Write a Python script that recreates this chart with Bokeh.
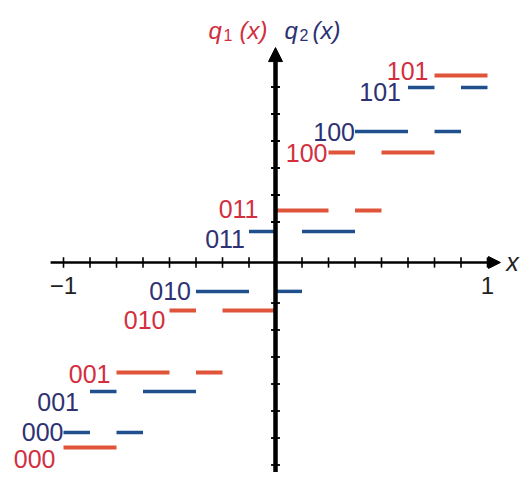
from bokeh.plotting import figure
from bokeh.models import ColumnDataSource, Arrow, NormalHead
from bokeh.core.properties import value
from bokeh.embed import file_html
from bokeh.resources import INLINE

# ---- data -------------------------------------------------------------
codes = ["000", "001", "010", "011", "100", "101"]

# q1(x): output level for each code and the x-cells mapped to it
q1_levels = [-6.85, -4.07, -1.78, 1.93, 4.07, 6.93]
q1_cells = [
    [(-1.0, -0.75)],
    [(-0.75, -0.5), (-0.375, -0.25)],
    [(-0.5, -0.375), (-0.25, 0.0)],
    [(0.0, 0.25), (0.375, 0.5)],
    [(0.25, 0.375), (0.5, 0.75)],
    [(0.75, 1.0)],
]

# q2(x)
q2_levels = [-6.30, -4.78, -1.07, 1.15, 4.85, 6.48]
q2_cells = [
    [(-1.0, -0.875), (-0.75, -0.625)],
    [(-0.875, -0.75), (-0.625, -0.375)],
    [(-0.375, -0.125), (0.0, 0.125)],
    [(-0.125, 0.0), (0.125, 0.375)],
    [(0.375, 0.625), (0.75, 0.875)],
    [(0.625, 0.75), (0.875, 1.0)],
]

x_ticks = [-1.0, -0.875, -0.75, -0.625, -0.5, -0.375, -0.25, -0.125,
           0.125, 0.25, 0.375, 0.5, 0.625, 0.75, 0.875, 1.0]
y_ticks = [-7.5, -6.5, -5.5, -4.5, -3.5, -2.5, -1.5,
           1.5, 2.5, 3.5, 4.5, 5.5, 6.5]
x_tick_labels = ["\u22121", "1"]
x_tick_label_pos = [-1.0, 1.0]

# ---- label placement (pixels, style only) ------------------------------
q1_label_dx = [-8, -6, -4, -17, -1, -6]
q1_label_dy = [12, 2, 9, -1, 0, -4]
q2_label_dx = [0, -11, -5, -4, 0, -7]
q2_label_dy = [-1, 10, 0, 8, 0, 4]

RED_LINE = "#e0553a"
RED_TEXT = "#d22f3f"
BLUE_LINE = "#1f4f8c"
BLUE_TEXT = "#2e3272"
FONT = "Liberation Sans"

p = figure(width=524, height=472, x_range=(-1.2972, 1.1745), y_range=(-7.7778, 9.7037),
           output_backend="svg", toolbar_location=None, min_border=0)
p.axis.visible = False
p.grid.visible = False
p.outline_line_color = None
p.background_fill_color = "white"


def segs(levels, cells):
    x0, x1, y = [], [], []
    for lev, cl in zip(levels, cells):
        for a, b in cl:
            x0.append(a)
            x1.append(b)
            y.append(lev)
    return ColumnDataSource(dict(x0=x0, x1=x1, y=y))


def labels(levels, cells, dx, dy):
    return ColumnDataSource(dict(
        x=[min(a for a, _ in cl) for cl in cells],
        y=levels, text=codes, dx=dx, dy=dy))


# axes
p.segment(x0=x_ticks, y0=[-0.19] * len(x_ticks), x1=x_ticks, y1=[0.19] * len(x_ticks),
          line_color="black", line_width=1.6)
p.segment(x0=[-0.021] * len(y_ticks), y0=y_ticks, x1=[0.021] * len(y_ticks), y1=y_ticks,
          line_color="black", line_width=1.8)
p.add_layout(Arrow(x_start=-1.061, y_start=0, x_end=1.061, y_end=0, line_width=2.6,
                   line_color="black",
                   end=NormalHead(size=12, fill_color="black", line_color="black")))
p.add_layout(Arrow(x_start=0, y_start=-8.1, x_end=0, y_end=7.96, line_width=4.5,
                   line_color="black",
                   end=NormalHead(size=14, fill_color="black", line_color="black")))

# quantizer steps
s1 = segs(q1_levels, q1_cells)
s2 = segs(q2_levels, q2_cells)
p.segment(x0="x0", y0="y", x1="x1", y1="y", source=s1, line_color=RED_LINE,
          line_width=4, line_cap="butt")
p.segment(x0="x0", y0="y", x1="x1", y1="y", source=s2, line_color=BLUE_LINE,
          line_width=3.5, line_cap="butt")

# code labels
p.text(x="x", y="y", text="text", x_offset="dx", y_offset="dy",
       source=labels(q1_levels, q1_cells, q1_label_dx, q1_label_dy),
       text_color=RED_TEXT, text_font=value(FONT), text_font_size="25px",
       text_align="right", text_baseline="middle")
p.text(x="x", y="y", text="text", x_offset="dx", y_offset="dy",
       source=labels(q2_levels, q2_cells, q2_label_dx, q2_label_dy),
       text_color=BLUE_TEXT, text_font=value(FONT), text_font_size="25px",
       text_align="right", text_baseline="middle")

# tick labels
p.text(x=x_tick_label_pos, y=[0, 0], text=x_tick_labels, y_offset=[23, 23],
       text_color="#222222", text_font=value(FONT), text_font_size="24px",
       text_align="center", text_baseline="middle")
p.text(x=[1.118], y=[0], text=["x"], text_color="#222222", text_font=value(FONT),
       text_font_size="25px", text_font_style="italic",
       text_align="center", text_baseline="middle")

# title pieces q1 (x)  q2 (x)
ty = 8.593
p.text(x=[0, 0], y=[ty, ty], text=["q", "(x)"], x_offset=[-67, -36],
       text_color=RED_TEXT, text_font=value(FONT), text_font_size="24px",
       text_font_style="italic", text_baseline="alphabetic")
p.text(x=[0], y=[ty], text=["1"], x_offset=[-52], y_offset=[5],
       text_color=RED_TEXT, text_font=value(FONT), text_font_size="16px",
       text_baseline="alphabetic")
p.text(x=[0, 0], y=[ty, ty], text=["q", "(x)"], x_offset=[9, 37],
       text_color=BLUE_TEXT, text_font=value(FONT), text_font_size="24px",
       text_font_style="italic", text_baseline="alphabetic")
p.text(x=[0], y=[ty], text=["2"], x_offset=[24], y_offset=[5],
       text_color=BLUE_TEXT, text_font=value(FONT), text_font_size="16px",
       text_baseline="alphabetic")

open("out.html", "w").write(file_html(p, INLINE))
